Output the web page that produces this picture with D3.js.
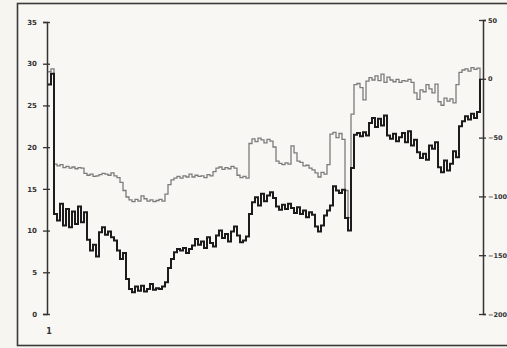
<!DOCTYPE html>
<html>
<head>
<meta charset="utf-8">
<script src="https://cdn.jsdelivr.net/npm/d3@7/dist/d3.min.js"></script>
<style>
  html, body { margin: 0; padding: 0; background: #f6f5f0; }
  svg { display: block; }
</style>
</head>
<body>
<svg id="chart" width="507" height="348"></svg>
<script>
// Left-axis series (0–35), one value per sample
const seriesA = [
  27.5, 28.8, 12.0, 11.2, 13.2, 10.6, 12.6, 10.4, 12.3, 10.8,
  12.9, 11.0, 12.2, 8.9, 7.6, 8.3, 6.9, 9.8, 10.4, 9.5,
  9.9, 9.2, 8.8, 7.6, 6.6, 7.3, 4.2, 3.0, 2.6, 3.3,
  2.8, 3.4, 2.7, 3.0, 3.6, 2.9, 3.1, 3.0, 3.3, 3.8,
  5.5, 6.6, 7.4, 7.8, 7.6, 7.9, 7.3, 7.8, 8.2, 9.0,
  8.3, 8.7, 7.9, 9.2, 8.5, 8.1, 9.4, 10.0, 9.1, 9.6,
  8.7, 9.9, 10.5, 9.4, 8.6, 8.8, 9.3, 12.0, 13.4, 14.0,
  13.0, 14.4, 13.5, 14.2, 14.6, 13.9, 12.9, 12.5, 13.1, 12.6,
  13.2, 12.7, 12.1, 12.8, 12.0, 12.4, 11.6, 12.2, 11.9, 10.5,
  9.9, 10.6, 11.8, 12.4, 13.0, 15.3, 14.8, 14.5, 14.9, 11.5,
  10.0, 17.5, 21.5, 21.7, 21.3, 21.8, 21.4, 22.9, 23.5, 22.4,
  23.4, 22.6, 23.8, 21.4, 21.0, 21.6, 20.7, 21.2, 21.7, 20.6,
  21.9, 20.2, 20.9, 19.4, 18.7, 19.2, 18.5, 20.2, 19.8, 20.6,
  17.6, 17.0, 18.4, 17.2, 18.0, 19.5, 18.8, 22.5, 23.1, 23.7,
  23.3, 24.0, 23.5, 24.2, 28.2
];

// Right-axis series (-200–50)
const seriesB = [
  6.0, 8.5, -72.5, -74.0, -73.0, -75.5, -74.5, -76.0, -75.0, -76.5,
  -75.5, -76.0, -80.5, -82.0, -81.0, -83.0, -82.5, -81.5, -80.5, -81.0,
  -82.0, -80.0, -82.5, -84.0, -88.0, -95.0, -100.5, -103.0, -104.5, -102.5,
  -104.0, -99.5, -102.0, -104.0, -103.0, -104.5, -103.5, -102.5, -104.0, -98.0,
  -90.0, -86.0, -84.5, -83.0, -84.5, -82.5, -83.5, -81.0, -83.5, -82.0,
  -83.0, -82.5, -84.0, -81.5, -82.5, -79.0, -76.0, -75.0, -77.0, -75.5,
  -76.5, -74.5, -76.0, -82.0, -84.0, -83.0, -84.5, -55.0, -51.0, -53.5,
  -50.5, -52.0, -54.5, -51.5, -53.0, -58.0, -70.0, -72.0, -73.0, -71.5,
  -72.5, -57.0, -63.0, -70.0, -71.0, -74.0, -73.5, -76.0, -77.5, -80.0,
  -83.5, -79.5, -81.0, -73.0, -47.0, -45.5, -50.0, -46.5, -51.5, -95.0,
  -118.0, -30.0, -5.0, -4.0, -7.5, -18.0, -2.0, 1.0, -1.0, 2.5,
  -1.5, 4.0, -3.0, 1.5, -1.0, -2.5, -0.5, -3.0, -1.5, -2.0,
  -0.5, -3.0, -12.0, -17.5, -9.5, -11.0, -5.0, -8.5, -12.0, -4.5,
  -19.5, -22.5, -16.5, -19.0, -17.0, -20.5, -5.0, 5.5, 7.5, 8.5,
  6.5, 9.5, 8.0, 9.0, -2.0
];

const leftTicks = [0, 5, 10, 15, 20, 25, 30, 35];
const rightTicks = [-200, -150, -100, -50, 0, 50];
const xLabels = ["1"];

const svg = d3.select("#chart");

// outer frame
svg.append("rect")
  .attr("x", 17.5).attr("y", 3.5)
  .attr("width", 500).attr("height", 342)
  .attr("fill", "#f8f7f3")
  .attr("stroke", "#3a3a3a").attr("stroke-width", 1.6);

const x = d3.scaleLinear().domain([0, seriesA.length - 1]).range([48, 480]);
const yL = d3.scaleLinear().domain([0, 35]).range([314, 22]);
const yR = d3.scaleLinear().domain([-200, 50]).range([314, 20]);

const font = "DejaVu Sans, sans-serif";

// left axis
const gL = svg.append("g").attr("transform", "translate(47,0)")
  .call(d3.axisLeft(yL).tickValues(leftTicks).tickSize(4).tickPadding(6));
gL.select(".domain").attr("stroke", "#333").attr("stroke-width", 1.5);
gL.selectAll(".tick line").attr("stroke", "#333").attr("stroke-width", 1.3).attr("x2", 3).attr("x1", -4);
gL.selectAll(".tick text").attr("font-family", font).attr("font-size", 7).attr("font-weight", "bold").attr("fill", "#333");

// right axis
const gR = svg.append("g").attr("transform", "translate(483,0)")
  .call(d3.axisRight(yR).tickValues(rightTicks).tickSize(3).tickPadding(2));
gR.select(".domain").attr("stroke", "#333").attr("stroke-width", 1.5);
gR.selectAll(".tick line").attr("stroke", "#333").attr("stroke-width", 1.3).attr("x1", -4).attr("x2", 3);
gR.selectAll(".tick text").attr("font-family", font).attr("font-size", 6.5).attr("font-weight", "bold").attr("fill", "#333");

// category label under the first sample
svg.selectAll(".xlab").data(xLabels).enter().append("text")
  .attr("class", "xlab")
  .attr("x", x(0) + 1).attr("y", 334)
  .attr("text-anchor", "middle")
  .attr("font-family", font).attr("font-size", 8).attr("font-weight", "bold")
  .attr("fill", "#333")
  .text(d => d);

// gray series (right axis)
svg.append("path")
  .datum(seriesB)
  .attr("fill", "none")
  .attr("stroke", "#7c7c7c")
  .attr("stroke-width", 1.3)
  .attr("d", d3.line().x((d, i) => x(i)).y(d => yR(d)).curve(d3.curveStepAfter));

// black series (left axis)
svg.append("path")
  .datum(seriesA)
  .attr("fill", "none")
  .attr("stroke", "#1c1c1c")
  .attr("stroke-width", 2)
  .attr("d", d3.line().x((d, i) => x(i)).y(d => yL(d)).curve(d3.curveStepAfter));
</script>
</body>
</html>
